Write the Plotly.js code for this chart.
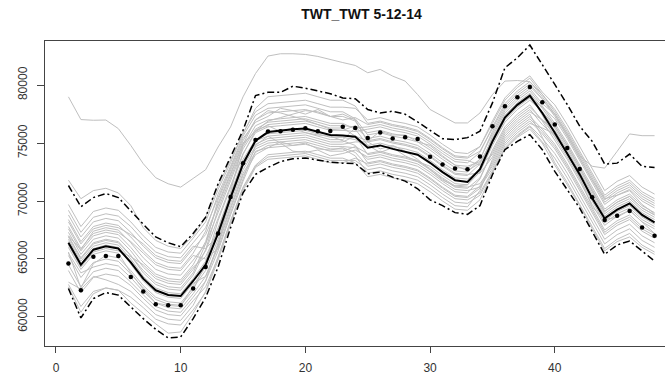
<!DOCTYPE html>
<html>
<head>
<meta charset="utf-8">
<script src="https://cdn.plot.ly/plotly-3.0.1.min.js"></script>
<style>
html,body{margin:0;padding:0;overflow:hidden;background:#fff;}
#chart{width:690px;height:374px;}
</style>
</head>
<body>
<div id="chart"></div>
<script>
// half-hour slots
const slots = [1,2,3,4,5,6,7,8,9,10,11,12,13,14,15,16,17,18,19,20,21,22,23,24,25,26,27,28,29,30,31,32,33,34,35,36,37,38,39,40,41,42,43,44,45,46,47,48];
const xTicks = [0,10,20,30,40];
const xTickLabels = ['0','10','20','30','40'];
const yTicks = [60000,65000,70000,75000,80000];
const yTickLabels = ['60000','65000','70000','75000','80000'];

// individual historical days (grey)
const day01 = [69700,67800,69100,69400,69200,68200,67000,66000,65600,65500,66800,68200,71000,73300,75900,77700,78400,78500,78600,78700,78400,78100,78100,78000,77000,77200,76900,76700,76400,75700,74900,74200,74100,74700,76700,78700,79800,80600,79200,77700,76000,74100,72100,70300,71100,71600,70600,70000];
const day02 = [69200,67300,68600,68900,68700,67800,66600,65600,65200,65100,66400,67700,70300,72800,75400,76800,77300,78000,77800,77500,77900,77300,77000,77200,76600,76800,76500,76300,76000,75300,74500,73800,73700,74300,76200,78200,79300,80100,78800,77300,75600,73700,71700,69900,70700,71200,70200,69600];
const day03 = [68800,66900,68200,68500,68300,67300,66100,65100,64700,64600,65900,67100,69600,72200,74900,77000,77800,77600,77300,77000,76600,76200,76100,76000,76200,76400,76100,75900,75600,74900,74100,73400,73300,74200,76400,78400,79500,80300,79200,77900,76200,74300,72300,70500,71300,71800,70800,70200];
const day04 = [68400,66500,67800,68100,67900,66900,65700,64700,64300,64200,65500,67400,70600,73000,75600,77400,78000,78100,78200,78300,78000,77700,77700,77100,75700,75900,75600,75400,75100,74400,73600,72900,72800,73600,75800,77800,78900,79700,78400,77500,75600,73700,71800,70200,70500,70900,69700,68900];
const day05 = [67000,65800,67400,67700,67500,66400,65100,64100,63700,63600,64900,66300,69000,71700,74500,76200,76800,76900,77000,77100,76800,76500,76500,76400,75400,75600,75300,75100,74800,74100,73300,72600,72500,73600,76000,78000,79100,79900,78800,77500,75800,73900,71900,70100,70900,71400,70400,69800];
const day06 = [67600,65700,67000,67300,67100,66000,64700,63700,63300,63200,64500,66500,69800,72400,75000,76000,76900,77200,77500,77800,77700,77300,77500,77000,75100,75300,75000,74800,74500,73800,73000,72300,72200,73200,75400,77400,78500,79300,78000,76500,74800,72900,70900,69100,69900,70400,69400,68800];
const day07 = [67300,65400,66700,67000,66800,65700,64300,63300,62900,62800,64100,65700,68500,71300,74100,75900,76400,76500,76600,76700,76400,76100,76100,76500,75900,76100,75800,75600,75300,74600,73800,73100,73000,73400,75000,77000,78100,78900,78100,77100,75400,73500,71500,69700,70500,71000,70000,69400];
const day08 = [67000,65100,66400,66700,66500,65300,63800,62800,62400,62300,63600,65800,69300,72000,74700,76500,77000,77100,77200,77300,77000,76700,76700,76200,74800,75000,74700,74500,74200,73500,72700,72000,71900,72600,75100,77100,78400,78900,77600,76300,74600,72700,70700,68900,69700,70200,69200,68600];
const day09 = [66700,64800,66100,66400,66200,65000,63500,62500,62100,62000,63300,64800,67700,70700,73600,75300,75800,75900,76000,76100,75800,75500,75500,75300,74800,74200,74600,73900,73400,73000,72200,71500,71400,72800,75600,77600,78700,79500,78200,76700,75000,73100,71100,69300,70100,70600,69600,69000];
const day10 = [66500,64600,65900,66200,66000,64600,63100,62100,61700,61600,62900,63500,66000,70800,74900,76000,76600,76700,76800,76900,76600,76300,76300,75600,74000,74200,73900,73700,73400,72700,71900,71200,71100,72000,74200,76200,77300,78100,77000,75700,74000,72100,70100,68300,69100,69600,68600,68000];
const day11 = [66000,64100,65400,65700,65500,63800,62400,61200,61000,60900,62700,64300,67400,70500,73400,74900,75400,75500,75600,75700,75400,75100,75100,75600,75200,75400,75100,74900,74600,73900,73100,72400,72300,72400,73800,75800,76900,77700,77000,76100,74400,72500,70500,68700,69500,70000,69000,68400];
const day12 = [65600,62500,64600,65300,65100,64000,62700,61700,61300,61200,62500,64000,66700,69800,72700,74500,75000,75100,75200,75300,75000,74700,74700,74600,73600,73800,73500,73300,73000,72300,71500,70800,70700,71900,74400,76400,77500,78300,76900,75300,73600,71700,69700,67900,68700,69200,68200,67600];
const day13 = [65300,63400,64700,65000,64800,63700,62500,61500,61100,61000,62300,64700,68300,71200,74000,76100,76500,76000,76300,75900,75700,75600,75200,74800,73300,73500,73200,73000,72700,72000,71200,70500,70400,71300,73400,75400,76500,77300,76200,74900,73200,71300,69300,67500,68300,68800,67800,67200];
const day14 = [65500,63800,64300,64600,64400,63400,62200,61200,60800,60700,62000,63500,66200,69300,72200,74000,74600,74700,74800,74900,74600,74300,74300,74700,74100,74300,74000,73800,73500,72800,72000,71300,71200,71500,73000,75000,76100,76900,75800,74500,72800,70900,68900,67100,67900,68400,67400,66800];
const day15 = [64500,62600,63900,64200,64000,63000,61900,60900,60500,60400,61700,63100,65700,68800,71700,74300,74600,75100,74800,75000,74500,74400,74600,74200,73000,73200,72900,72700,72400,71700,70900,70200,70100,70700,72600,74600,75700,76500,75400,74100,72400,70500,68500,66700,67500,68000,67000,66400];
const day16 = [64000,62100,63400,63700,63500,62700,61600,60600,60200,60100,61400,62600,65100,68200,71100,73000,73800,73900,74000,74100,73800,73500,73500,73500,72700,72900,72600,72400,72100,71400,70600,69900,69800,70500,72500,74500,75600,76400,75100,73700,72000,70100,68100,66300,67100,67600,66600,66000];
const day17 = [63000,62400,63500,63200,62800,62200,61200,60200,59800,59700,61000,63100,66400,69500,72400,74200,74800,74900,75000,75100,74800,74500,74500,73900,72400,72600,72300,72100,71800,71100,70300,69600,69500,70900,73600,75600,76700,77500,75500,73300,71600,69700,67700,65900,66700,67200,66200,65600];
const day18 = [62800,60900,62200,62500,62300,61700,60800,59800,59400,59300,60600,62100,64900,68000,70900,72900,73600,73700,73800,73900,73600,73300,73300,73700,73200,73400,73100,72900,72600,71900,71100,70400,70300,71100,73200,75200,76300,77100,76000,74700,73000,71100,69100,67300,68100,68600,67600,67000];
const day19 = [67800,65900,67200,67500,67300,66500,65500,64500,64100,64000,65300,65000,65900,69000,71900,74800,75600,75000,74300,74200,74400,73900,74100,74400,73800,74000,73700,73500,73200,72500,71700,71000,70900,71200,72800,74800,75900,76700,76300,75800,74100,72200,70200,68400,69200,69700,68700,68100];
const day20 = [66900,65000,66300,66600,66400,65300,64000,63000,62600,62500,63800,66300,70100,72600,75200,77000,77600,77700,77800,77900,77600,77300,77300,76900,75200,76000,75700,75700,75100,74800,73900,73100,72600,73300,75300,77300,78400,79200,77400,75500,73800,71900,69900,68100,68900,69400,68400,67800];
const day21 = [66200,64300,65600,65900,65700,65200,64500,63500,63100,63000,64300,65200,67500,70500,73400,75200,75600,75700,75800,75900,75600,75300,75300,76300,76400,76600,76300,76100,75800,75100,74300,73600,73500,73100,74000,76000,77100,77900,76600,75600,74200,72000,69500,68400,68600,69200,68200,67200];
const day22 = [68200,66300,67600,67900,67700,67100,66300,65300,64900,64800,66100,65900,67000,70100,73000,74700,75200,75300,75400,75500,75200,74900,74900,75100,75100,74500,74800,74300,73600,72700,71800,71300,71400,72500,74800,76800,77900,78700,77700,76500,74800,72900,70900,69100,69900,70400,69400,68800];
const day23 = [71800,70200,70900,71100,70700,69600,67700,66600,66100,65900,67000,68600,71300,73500,75800,78000,79000,79100,79200,79300,79000,78700,78700,78200,76700,76900,76600,76400,76100,75400,74600,73900,73800,74700,76900,78900,80000,80800,79400,78300,76600,74700,72700,70900,71700,72200,71200,70600];
const day24 = [62600,60400,62000,62500,62300,61200,60300,59400,58600,58700,60300,62200,65200,68300,71200,73100,74000,74100,74200,74300,74000,73700,73700,73300,72100,72300,72000,71800,71500,70800,70000,69300,69200,70100,72400,74500,75500,76200,75000,73100,71400,69600,67600,65700,66500,66900,66000,65400];
// unusually high day (grey outlier)
const dayHigh = [78990,77030,76970,76990,76250,74800,73220,72010,71490,71200,71950,72700,74660,76390,78990,81000,82510,82710,82710,82650,82480,82190,81950,81700,81070,81360,80780,80350,79190,77900,77320,76740,76740,77600,79190,80350,80400,80300,79000,77500,75800,73900,73000,72840,74290,75790,75640,75640];

// summary curves
const meanCurve = [66400,64500,65800,66100,65900,64700,63300,62300,61900,61800,63100,64500,67200,70300,73200,75200,75950,76100,76200,76250,76000,75700,75650,75550,74600,74800,74500,74250,74000,73300,72500,71800,71650,72750,75150,77200,78300,79100,77600,75900,74150,72300,70250,68500,69250,69800,68800,68150];
const targetDay = [64600,62300,65200,65250,65250,63450,62200,61100,61000,61000,62450,64300,67200,70350,73250,75270,76000,76030,76160,76280,76020,76050,76420,76300,75450,75920,75400,75500,75360,73820,73150,72800,72750,73850,76450,78180,78960,79830,78530,76600,74570,72760,70330,68370,68740,69150,67710,67010];
const upperBand = [71340,69500,70300,70650,70300,69130,68000,66900,66400,66060,67200,68600,71490,73800,76100,79100,79380,79380,79910,79740,79480,79260,78900,78830,77900,77600,77750,77490,76830,76100,75380,75300,75470,76020,78470,81500,82360,83460,81790,80060,78330,76450,75150,73190,73270,74050,72990,72900];
const lowerBand = [62450,59910,61580,62100,61880,60870,59850,58930,58180,58270,59850,61680,64300,67700,70700,72300,72900,73400,73650,73710,73540,73360,73270,73240,72350,72500,72060,71720,71060,70100,69600,69000,68850,69600,72270,74430,75150,75730,74430,72560,70970,69380,67360,65400,66210,66550,65690,64820];

const grayDays = [day01,day02,day03,day04,day05,day06,day07,day08,day09,day10,day11,day12,day13,day14,day15,day16,day17,day18,day19,day20,day21,day22,day23,day24,dayHigh];

const traces = [];
grayDays.forEach(function(d){
  traces.push({x: slots, y: d, type:'scatter', mode:'lines', line:{color:'#bfbfbf', width:1}, hoverinfo:'skip', showlegend:false});
});
const dd = '7px,3px,2px,3px';
traces.push({x: slots, y: upperBand, type:'scatter', mode:'lines', line:{color:'#000', width:1.5, dash:dd}, showlegend:false});
traces.push({x: slots, y: lowerBand, type:'scatter', mode:'lines', line:{color:'#000', width:1.5, dash:dd}, showlegend:false});
traces.push({x: slots, y: meanCurve, type:'scatter', mode:'lines', line:{color:'#000', width:2}, showlegend:false});
traces.push({x: slots, y: targetDay, type:'scatter', mode:'markers', marker:{color:'#000', size:4.5}, showlegend:false});

const axisFont = {family:'Liberation Sans, Arial, sans-serif', size:12, color:'#333'};
const layout = {
  width: 690, height: 374,
  margin: {l:45, r:12, t:41, b:28, pad:0},
  paper_bgcolor:'#fff', plot_bgcolor:'#fff',
  showlegend:false,
  title: {text:'<b>TWT_TWT 5-12-14</b>', font:{family:'Liberation Sans, Arial, sans-serif', size:14, color:'#111'}, x:0.5, xref:'paper', xanchor:'center', y:0.963, yref:'container', yanchor:'middle'},
  xaxis: {range:[-0.88,49.88], tickmode:'array', tickvals:xTicks, ticktext:xTickLabels, showline:true, mirror:true, linecolor:'#444', linewidth:1, ticks:'outside', ticklen:6, tickcolor:'#444', ticklabelstandoff:5, showgrid:false, zeroline:false, tickfont:axisFont},
  yaxis: {range:[57490,83810], tickmode:'array', tickvals:yTicks, ticktext:yTickLabels, tickangle:-90, showline:true, mirror:true, linecolor:'#444', linewidth:1, ticks:'outside', ticklen:7, tickcolor:'#444', ticklabelstandoff:5, showgrid:false, zeroline:false, tickfont:axisFont}
};
Plotly.newPlot('chart', traces, layout, {staticPlot:true, displayModeBar:false});
</script>
</body>
</html>
